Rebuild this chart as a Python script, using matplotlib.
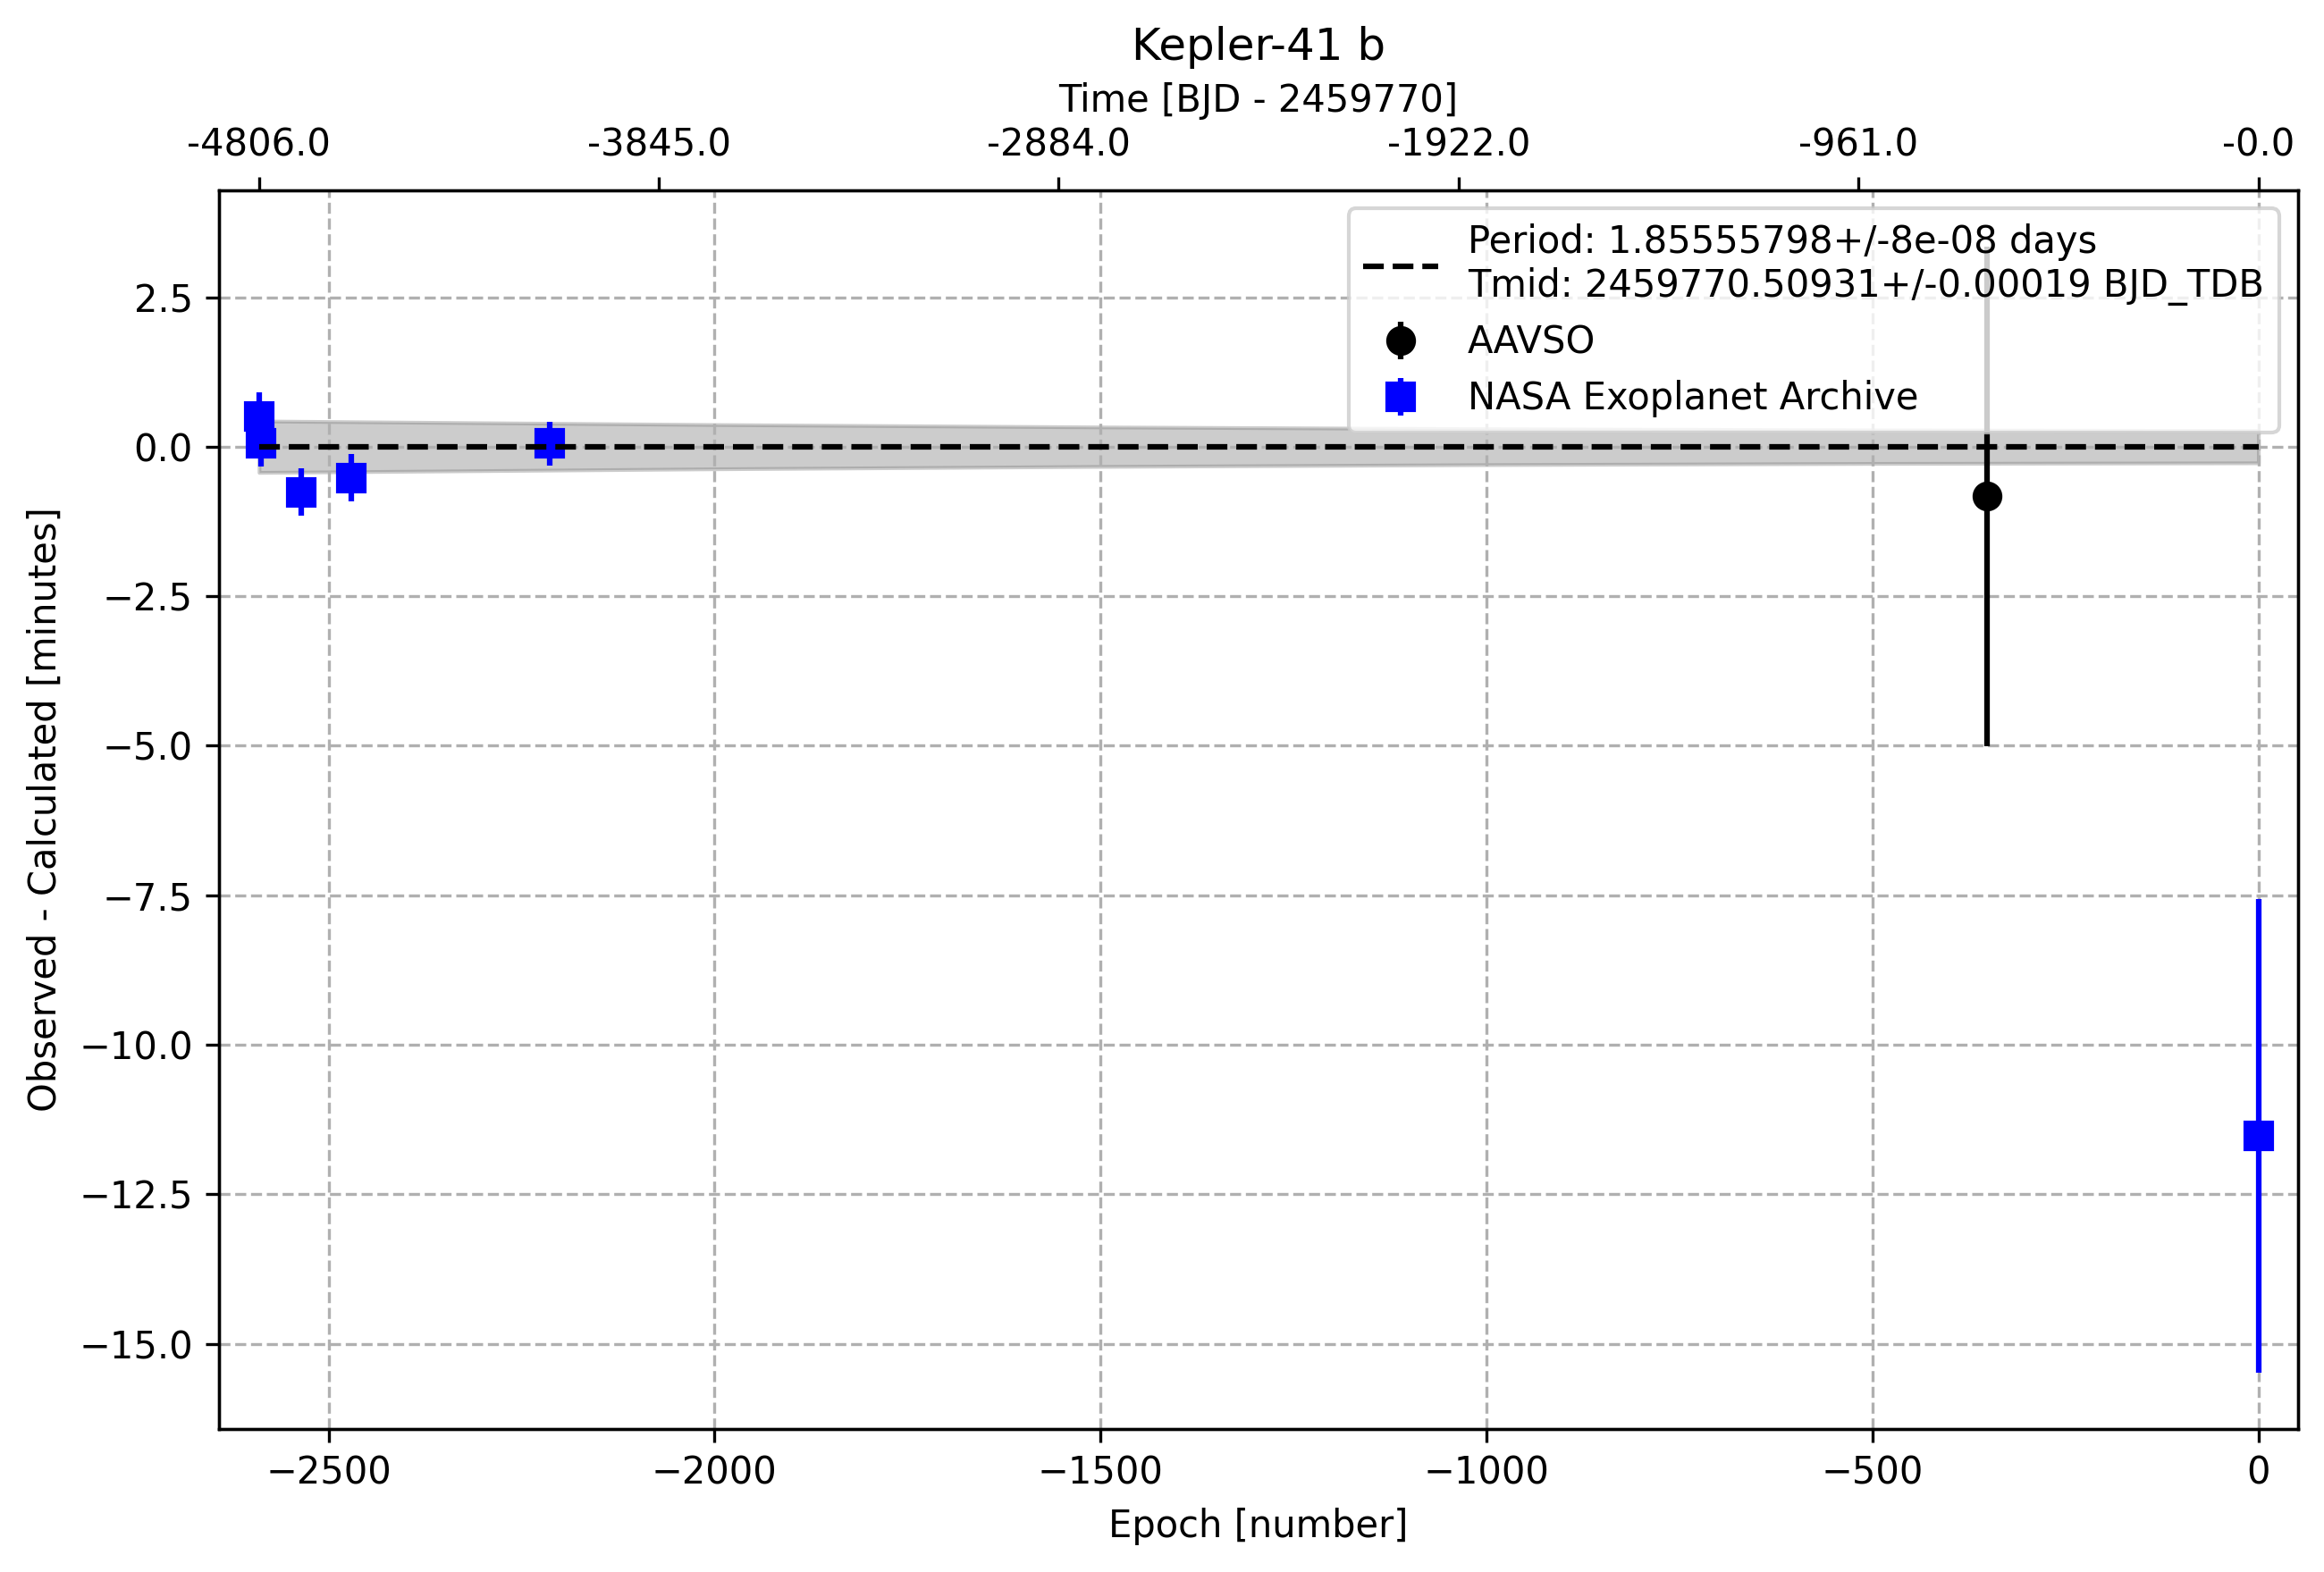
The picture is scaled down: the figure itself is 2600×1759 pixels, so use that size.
import numpy as np
import matplotlib
matplotlib.use('Agg')
import matplotlib.pyplot as plt

# O-C data [minutes] vs epoch
nasa_epoch = [-2590, -2587, -2535, -2470, -2213, 0]
nasa_oc = [0.50, 0.06, -0.76, -0.52, 0.05, -11.52]
nasa_err = [0.41, 0.39, 0.40, 0.40, 0.37, 3.96]

aavso_epoch = [-352]
aavso_oc = [-0.83]
aavso_err = [4.18]

# ephemeris uncertainty band (half width, minutes)
band_epoch = [-2590, -2000, -1500, -1000, -500, 0]
band_half = [0.43, 0.37, 0.33, 0.30, 0.28, 0.27]

period = 1.85555798
time_ticks = [-4806.0, -3845.0, -2884.0, -1922.0, -961.0, -0.0]
ephem_label = 'Period: 1.85555798+/-8e-08 days\nTmid: 2459770.50931+/-0.00019 BJD_TDB'

fig = plt.figure(figsize=(2600 / 300, 1759 / 300), dpi=300)
ax = fig.add_axes([0.0942, 0.0911, 0.8945, 0.7880])

bh = np.array(band_half)
ax.fill_between(band_epoch, -bh, bh, color='gray', alpha=0.4)
ax.plot([band_epoch[0], band_epoch[-1]], [0, 0], 'k--', lw=1.5, label=ephem_label,
        zorder=3)

ax.errorbar(aavso_epoch, aavso_oc, yerr=aavso_err, fmt='o', color='black',
            ms=7, lw=1.5, label='AAVSO')
ax.errorbar(nasa_epoch, nasa_oc, yerr=nasa_err, fmt='s', color='blue',
            ms=7, lw=1.5, label='NASA Exoplanet Archive')

ax.set_xlim(-2642, 51)
ax.set_xlabel('Epoch [number]')
ax.set_ylabel('Observed - Calculated [minutes]')
ax.grid(True, ls='--')
ax.legend(loc='upper right')

ax2 = ax.twiny()
ax2.set_xlim(ax.get_xlim())
ax2.set_xticks([t / period for t in time_ticks])
ax2.set_xticklabels([f'{t:.1f}' for t in time_ticks])
ax2.set_xlabel('Time [BJD - 2459770]')
ax2.set_title('Kepler-41 b', fontsize=12)

plt.savefig('out.png', dpi=300)
